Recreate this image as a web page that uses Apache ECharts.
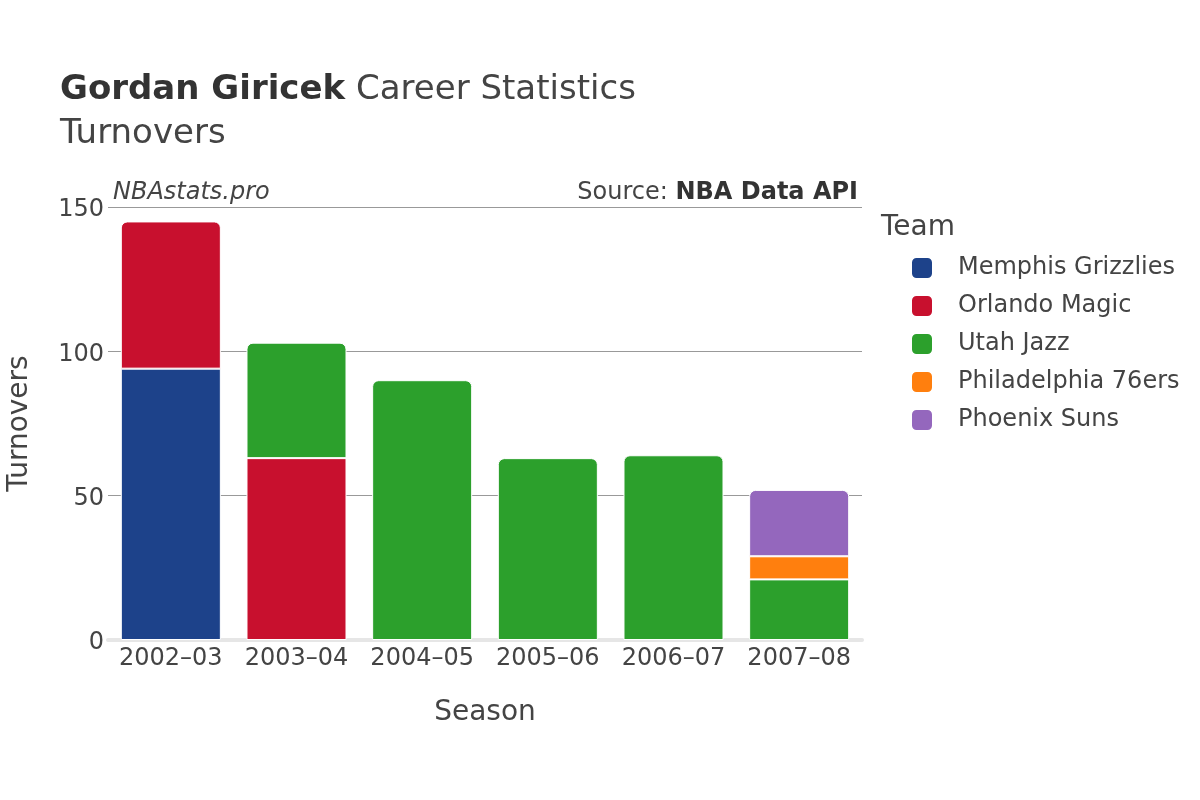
<!DOCTYPE html>
<html>
<head>
<meta charset="utf-8">
<script src="https://cdn.jsdelivr.net/npm/echarts@6/dist/echarts.min.js"></script>
<style>html,body{margin:0;padding:0;background:#fff}#c{width:1200px;height:800px}</style>
</head>
<body>
<div id="c"></div>
<script>
const seasons = ['2002–03','2003–04','2004–05','2005–06','2006–07','2007–08'];
const teams = ['Memphis Grizzlies','Orlando Magic','Utah Jazz','Philadelphia 76ers','Phoenix Suns'];
const colors = ['#1d428a','#c8102e','#2ca02c','#ff7f0e','#9467bd'];
const memphis = [94, null, null, null, null, null];
const orlando = [51, 63, null, null, null, null];
const utah = [null, 40, 90, 63, 64, 21];
const phila = [null, null, null, null, null, 8];
const phoenix = [null, null, null, null, null, 23];
const yTicks = [0, 50, 100, 150];

const seriesValues = [memphis, orlando, utah, phila, phoenix];
const FONT = 'DejaVu Sans';

// topmost series per category gets rounded top corners
const topIdx = seasons.map((_, i) => {
  let t = -1;
  seriesValues.forEach((arr, s) => { if (arr[i] != null) t = s; });
  return t;
});

const series = teams.map((name, s) => ({
  name,
  type: 'bar',
  stack: 'total',
  barWidth: '79.6%',
  itemStyle: { color: colors[s], borderColor: '#fff', borderWidth: 1 },
  data: seriesValues[s].map((v, i) => v == null ? '-' : {
    value: v,
    itemStyle: { borderRadius: topIdx[i] === s ? [6, 6, 0, 0] : 0 }
  })
}));

const chart = echarts.init(document.getElementById('c'));
chart.setOption({
  backgroundColor: '#fff',
  animation: false,
  textStyle: { fontFamily: FONT },
  grid: { left: 108, right: 338, top: 207, bottom: 160, containLabel: false, outerBoundsMode: 'none' },
  xAxis: {
    type: 'category',
    data: seasons,
    name: 'Season',
    nameLocation: 'middle',
    nameGap: 59,
    nameTextStyle: { fontSize: 28, color: '#444', fontFamily: FONT },
    axisLine: { lineStyle: { color: '#e6e6e6', width: 4 } },
    axisTick: { show: false },
    axisLabel: { interval: 0, fontSize: 24, color: '#444', margin: 7, fontFamily: FONT }
  },
  yAxis: {
    type: 'value',
    min: yTicks[0],
    max: yTicks[yTicks.length - 1],
    interval: 50,
    name: 'Turnovers',
    nameLocation: 'middle',
    nameGap: 74,
    nameTextStyle: { fontSize: 28, color: '#444', fontFamily: FONT },
    axisLine: { show: false },
    axisTick: { show: false },
    axisLabel: {
      margin: 4,
      formatter: '{v|{value}}',
      rich: { v: { fontSize: 24, color: '#444', fontFamily: FONT, padding: [6, 0, 0, 0] } }
    },
    splitLine: { lineStyle: { color: '#999', width: 1 } }
  },
  legend: {
    orient: 'vertical',
    left: 905,
    top: 251,
    icon: 'roundRect',
    itemWidth: 22,
    itemHeight: 22,
    itemGap: 14,
    textStyle: { fontSize: 24, lineHeight: 22, color: '#444', fontFamily: FONT, padding: [0, 0, 0, 20] },
    data: teams
  },
  graphic: [
    { type: 'text', left: 60, top: 73, style: { text: 'Gordan Giricek', font: 'bold 34px "DejaVu Sans"', fill: '#333' } },
    { type: 'text', left: 356, top: 73, style: { text: 'Career Statistics', font: '34px "DejaVu Sans"', fill: '#444' } },
    { type: 'text', left: 60, top: 117, style: { text: 'Turnovers', font: '34px "DejaVu Sans"', fill: '#444' } },
    { type: 'text', left: 113, top: 181, style: { text: 'NBAstats.pro', font: 'italic 24px "DejaVu Sans"', fill: '#444' } },
    { type: 'text', right: 342, top: 181, style: { rich: { a: { font: '24px "DejaVu Sans"', fill: '#444' }, b: { font: 'bold 24px "DejaVu Sans"', fill: '#333' } }, text: '{a|Source: }{b|NBA Data API}' } },
    { type: 'text', left: 881, top: 214, style: { text: 'Team', font: '28px "DejaVu Sans"', fill: '#444' } }
  ],
  series
});
</script>
</body>
</html>
